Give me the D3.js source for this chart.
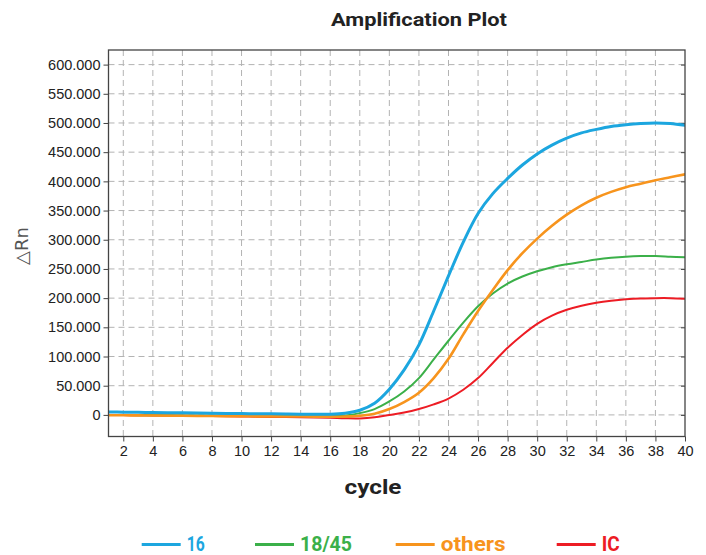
<!DOCTYPE html>
<html>
<head>
<meta charset="utf-8">
<script src="https://cdn.jsdelivr.net/npm/d3@7/dist/d3.min.js"></script>
<style>
  html, body { margin: 0; padding: 0; background: #fff; }
  svg { display: block; }
</style>
</head>
<body>
<svg id="chart" width="706" height="555"></svg>
<script>
// ---- data ----
const cycles = d3.range(1, 41);
const series16 = [5.0, 4.7, 4.4, 4.1, 3.8, 3.5, 3.2, 2.9, 2.6, 2.3, 2.0, 1.8, 1.5, 1.3, 1.1, 1.2, 3, 8, 20, 44,
                  77, 120, 178, 238, 296, 345, 379, 405, 428, 447, 462, 474, 483, 489, 494, 497, 499, 500, 499, 496];
const series1845 = [0, -0.2, -0.4, -0.6, -0.8, -1.0, -1.1, -1.2, -1.3, -1.4, -1.5, -1.6, -1.7, -1.8, -1.9, -2.0, -1.0, 3, 10, 23,
                    40, 63, 95, 127, 158, 186, 208, 225, 237, 246, 253, 258, 262, 266, 269, 271, 272, 272, 271, 270];
const seriesOthers = [-0.5, -0.7, -0.9, -1.1, -1.3, -1.5, -1.7, -1.9, -2.1, -2.3, -2.5, -2.6, -2.7, -2.8, -2.9, -3.0, -3.0, -1.5, 2, 10,
                      22, 38, 63, 96, 138, 178, 214, 248, 277, 302, 324, 343, 359, 372, 382, 390, 396, 402, 407, 412];
const seriesIC = [0, -0.3, -0.6, -0.9, -1.2, -1.5, -1.8, -2.1, -2.4, -2.7, -3.0, -3.4, -3.8, -4.2, -4.6, -5.0, -5.8, -6.0, -4.0, 0,
                  4, 10, 18, 28, 43, 63, 89, 115, 137, 156, 170, 180, 187, 192, 195.5, 198, 199.5, 200, 200, 199];
const seriesNames = ["16", "18/45", "others", "IC"];
const seriesColors = ["#1ca6df", "#3bb049", "#f7941d", "#ed1c24"];
const xTicks = d3.range(2, 41, 2);
const yTicks = d3.range(0, 601, 50);

// ---- layout ----
const svg = d3.select("#chart");
const L = 108.5, R = 685, T = 50, B = 436.5;
const x = d3.scaleLinear().domain([1, 40]).range([L, R]);
const y = d3.scaleLinear().domain([-37, 625]).range([B, T]);

// title
svg.append("text").attr("x", 419).attr("y", 26).attr("text-anchor", "middle")
  .attr("font-family", "Roboto, 'DejaVu Sans', sans-serif").attr("font-weight", "bold")
  .attr("font-size", 17.5).attr("fill", "#222").attr("textLength", 176).attr("lengthAdjust", "spacingAndGlyphs")
  .text("Amplification Plot");

// grid
const grid = svg.append("g").attr("stroke", "#b3b3b3").attr("stroke-width", 1).attr("stroke-dasharray", "6,4");
grid.selectAll("line.v").data(xTicks.filter(d => d < 40)).join("line")
  .attr("x1", d => x(d)).attr("x2", d => x(d)).attr("y1", T).attr("y2", B);
grid.selectAll("line.h").data(yTicks).join("line")
  .attr("x1", L).attr("x2", R).attr("y1", d => y(d)).attr("y2", d => y(d));

// axes
const fmt = d => d === 0 ? "0" : d3.format(".3f")(d);
const yAxis = svg.append("g").attr("transform", `translate(${L},0)`)
  .call(d3.axisLeft(y).tickValues(yTicks).tickFormat(fmt).tickSize(5).tickPadding(3));
const xAxis = svg.append("g").attr("transform", `translate(0,${B})`)
  .call(d3.axisBottom(x).tickValues(xTicks).tickSize(5).tickPadding(4));
const yAxisR = svg.append("g").attr("transform", `translate(${R},0)`)
  .call(d3.axisLeft(y).tickValues(yTicks).tickFormat("").tickSize(4));
[yAxis, xAxis, yAxisR].forEach(g => {
  g.select(".domain").remove();
  g.selectAll(".tick line").attr("stroke", "#444");
  g.selectAll(".tick text").attr("font-family", "'Liberation Sans', Arial, sans-serif")
    .attr("font-size", 14.5).attr("fill", "#222");
});

// plot lines
const clip = svg.append("clipPath").attr("id", "clip").append("rect")
  .attr("x", L).attr("y", T).attr("width", R - L).attr("height", B - T);
const allSeries = [series16, series1845, seriesOthers, seriesIC];
const widths = [3, 2, 2.6, 2];
const line = d3.line().x((d, i) => x(cycles[i])).y(d => y(d)).curve(d3.curveCatmullRom.alpha(0.5));
const gLines = svg.append("g").attr("clip-path", "url(#clip)");
[3, 1, 2, 0].forEach(k => {
  gLines.append("path").datum(allSeries[k]).attr("d", line)
    .attr("fill", "none").attr("stroke", seriesColors[k]).attr("stroke-width", widths[k])
    .attr("stroke-linejoin", "round").attr("stroke-linecap", "round");
});

// frame
svg.append("rect").attr("x", L).attr("y", T).attr("width", R - L).attr("height", B - T)
  .attr("fill", "none").attr("stroke", "#444").attr("stroke-width", 1.3);

// axis titles
svg.append("text").attr("x", 373).attr("y", 494).attr("text-anchor", "middle")
  .attr("font-family", "Roboto, 'DejaVu Sans', sans-serif").attr("font-weight", "bold")
  .attr("font-size", 21).attr("fill", "#222").attr("textLength", 57).attr("lengthAdjust", "spacingAndGlyphs")
  .text("cycle");
svg.append("text").attr("transform", "translate(28,246) rotate(-90)").attr("text-anchor", "middle")
  .attr("font-family", "'DejaVu Sans', sans-serif").attr("font-size", 18).attr("fill", "#555")
  .text("△Rn");

// legend
const legX = [141.7, 255, 395.7, 556.7];
const legW = [18, 52, 65, 18];
const leg = svg.append("g");
seriesNames.forEach((name, i) => {
  leg.append("line").attr("x1", legX[i]).attr("x2", legX[i] + 39).attr("y1", 544.5).attr("y2", 544.5)
    .attr("stroke", seriesColors[i]).attr("stroke-width", 3);
  leg.append("text").attr("x", legX[i] + 45).attr("y", 550.5)
    .attr("font-family", "Roboto, 'DejaVu Sans', sans-serif").attr("font-weight", "bold")
    .attr("font-size", 20.5).attr("fill", seriesColors[i])
    .attr("textLength", legW[i]).attr("lengthAdjust", "spacingAndGlyphs")
    .text(name);
});
</script>
</body>
</html>
